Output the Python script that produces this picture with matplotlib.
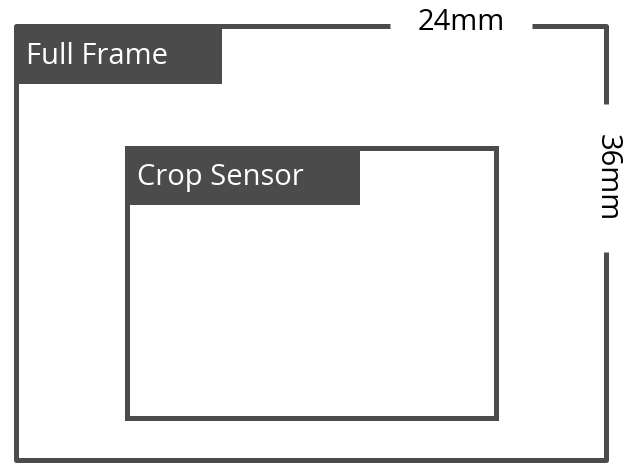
import matplotlib.pyplot as plt
from matplotlib.patches import Rectangle

# frame geometry in pixel units (x0, y0, x1, y1)
outer = [16, 26, 606, 460]
inner = [127, 148, 496, 418]
labels = ["Full Frame", "Crop Sensor"]
label_boxes = [[16, 28, 222, 84], [127, 148, 360, 205]]
dim_top = "24mm"
dim_side = "36mm"

col = "#4b4b4b"
lw = 3.6

fig = plt.figure(figsize=(6.24, 4.73), dpi=100)
ax = fig.add_axes([0, 0, 1, 1])
ax.set_xlim(0, 624)
ax.set_ylim(473, 0)
ax.axis("off")

x0, y0, x1, y1 = outer
# outer frame with gaps for dimension text
ax.plot([390, x0, x0, x1, x1], [y0, y0, y1, y1, 252], color=col, lw=lw, solid_capstyle="butt")
ax.plot([532, x1, x1], [y0, y0, 104], color=col, lw=lw, solid_capstyle="butt")
ax.text(461, y0 - 4, dim_top, ha="center", va="center", fontsize=21, color="black", family="Open Sans")
ax.text(x1 + 1, 178, dim_side, ha="center", va="center", fontsize=21, rotation=-90,
        color="black", family="Open Sans")

ix0, iy0, ix1, iy1 = inner
ax.add_patch(Rectangle((ix0, iy0), ix1 - ix0, iy1 - iy0, fill=False, ec=col, lw=lw))

for lab, (bx0, by0, bx1, by1) in zip(labels, label_boxes):
    ax.add_patch(Rectangle((bx0, by0), bx1 - bx0, by1 - by0, color=col, lw=0))
    ax.text(bx0 + 10, (by0 + by1) / 2 + 1, lab, ha="left", va="center", fontsize=21,
            color="white", family="Open Sans")

fig.savefig("out.png", dpi=100)
